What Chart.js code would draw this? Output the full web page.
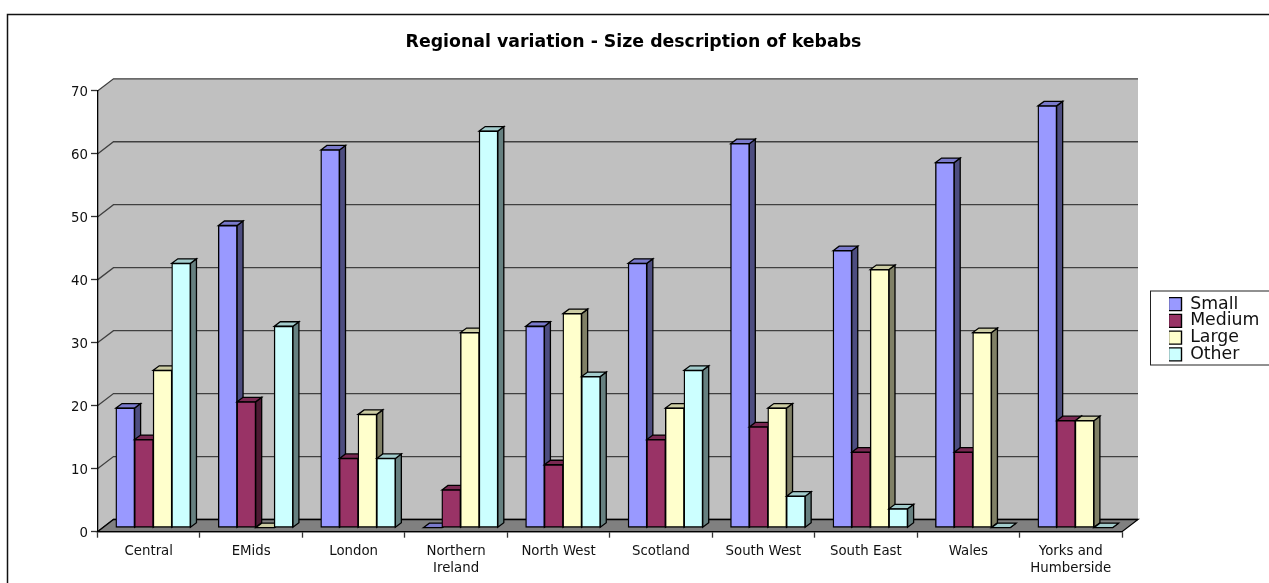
<!DOCTYPE html>
<html>
<head>
<meta charset="utf-8">
<title>Regional variation - Size description of kebabs</title>
<script src="https://cdn.jsdelivr.net/npm/chart.js@4"></script>
<style>
  html, body { margin: 0; padding: 0; background: #fff; }
  #wrap { position: relative; width: 1269px; height: 583px; overflow: hidden; }
</style>
</head>
<body>
<div id="wrap"><canvas id="kebabChart" width="1269" height="583"></canvas></div>
<script>
const regions = ['Central', 'EMids', 'London', ['Northern', 'Ireland'], 'North West', 'Scotland',
  'South West', 'South East', 'Wales', ['Yorks and', 'Humberside']];
const seriesNames = ['Small', 'Medium', 'Large', 'Other'];
const small  = [19, 48, 60, 0, 32, 42, 61, 44, 58, 67];
const medium = [14, 20, 11, 6, 10, 14, 16, 12, 12, 17];
const large  = [25, 0, 18, 31, 34, 19, 19, 41, 31, 17];
const other  = [42, 32, 11, 63, 24, 25, 5, 3, 0, 0];

const fronts = ['#9999ff', '#993366', '#ffffcc', '#ccffff'];
const tops   = ['#7a7acc', '#7a2952', '#cccca3', '#a3cccc'];
const sides  = ['#4d4d80', '#4d1a33', '#808066', '#668080'];

const FONT = '"DejaVu Sans", Verdana, sans-serif';
const WALL_DX = 16, WALL_DY = 12.2;   // depth of the floor and side wall
const BAR_DX = 4.5, BAR_DY = 4;       // bars stand a little behind the axis plane
const SIDE_DX = 6, SIDE_DY = 4.5;     // depth of each bar
const EDGE = 1.3;

function poly(ctx, pts, fill, stroke) {
  ctx.beginPath();
  pts.forEach((p, i) => i ? ctx.lineTo(p[0], p[1]) : ctx.moveTo(p[0], p[1]));
  ctx.closePath();
  if (fill) { ctx.fillStyle = fill; ctx.fill(); }
  if (stroke) { ctx.strokeStyle = stroke; ctx.lineWidth = EDGE; ctx.stroke(); }
}

const pseudo3d = {
  id: 'pseudo3d',
  afterLayout(chart) {
    // title is centred on the frame, not on the plot
    chart.titleBlock.left = 0;
    chart.titleBlock.right = 1267;
    // legend sits in its own box to the right of the plot
    const lg = chart.legend;
    const pad = lg.options.labels.padding;
    lg.left = 1168.5 - pad;
    lg.top = 295.5 - pad;
    lg.right = 1269;
    lg.bottom = 365;
  },
  beforeDraw(chart) {
    const { ctx, chartArea: a, scales: { y } } = chart;
    ctx.save();
    // outer frame, open to the right and bottom
    ctx.strokeStyle = '#111';
    ctx.lineWidth = 1.5;
    ctx.beginPath();
    ctx.moveTo(7.5, 583);
    ctx.lineTo(7.5, 14.5);
    ctx.lineTo(1269, 14.5);
    ctx.stroke();

    // side wall and back wall in one piece, then the floor
    poly(ctx, [[a.left, a.top], [a.left + WALL_DX, a.top - WALL_DY], [a.right + WALL_DX, a.top - WALL_DY],
      [a.right + WALL_DX, a.bottom - WALL_DY], [a.left + WALL_DX, a.bottom - WALL_DY], [a.left, a.bottom]], '#c0c0c0');

    // grid lines run back along the side wall and across the back
    ctx.strokeStyle = '#404040';
    ctx.lineWidth = EDGE;
    y.ticks.forEach(t => {
      const py = y.getPixelForValue(t.value);
      ctx.beginPath();
      ctx.moveTo(a.left, py);
      ctx.lineTo(a.left + WALL_DX, py - WALL_DY);
      ctx.lineTo(a.right + WALL_DX, py - WALL_DY);
      ctx.stroke();
    });
    poly(ctx, [[a.left, a.bottom], [a.left + WALL_DX, a.bottom - WALL_DY],
      [a.right + WALL_DX, a.bottom - WALL_DY], [a.right, a.bottom]], '#808080', '#000');

    // legend box
    ctx.fillStyle = '#fff';
    ctx.fillRect(1150.5, 291, 120, 74);
    ctx.strokeStyle = '#222';
    ctx.lineWidth = 1;
    ctx.strokeRect(1150.5, 291, 120, 74);
    ctx.restore();
  },
  beforeDatasetsDraw(chart) {
    const { ctx } = chart;
    ctx.save();
    ctx.translate(BAR_DX, -BAR_DY);
    regions.forEach((r, i) => {
      seriesNames.forEach((s, d) => {
        const bar = chart.getDatasetMeta(d).data[i];
        const x0 = bar.x - bar.width / 2, x1 = bar.x + bar.width / 2;
        const t = bar.y, b = bar.base;
        poly(ctx, [[x1, t], [x1 + SIDE_DX, t - SIDE_DY], [x1 + SIDE_DX, b - SIDE_DY], [x1, b]], sides[d], '#000');
        poly(ctx, [[x0, t], [x0 + SIDE_DX, t - SIDE_DY], [x1 + SIDE_DX, t - SIDE_DY], [x1, t]], tops[d], '#000');
        bar.draw(ctx);
      });
    });
    ctx.restore();
    return false;
  }
};

new Chart(document.getElementById('kebabChart'), {
  type: 'bar',
  data: {
    labels: regions,
    datasets: [small, medium, large, other].map((values, d) => ({
      label: seriesNames[d],
      data: values,
      backgroundColor: fronts[d],
      borderColor: '#000',
      borderWidth: 1.4,
      borderSkipped: false,
      inflateAmount: 0.5,
      barPercentage: 1,
      categoryPercentage: 0.727
    }))
  },
  options: {
    responsive: false,
    animation: false,
    layout: { padding: { left: 0, top: 0, right: 147, bottom: 0 } },
    scales: {
      x: {
        afterFit(s) { s.height = 51.3; },
        grid: { drawOnChartArea: false, tickLength: 6, tickColor: '#333', tickWidth: 1.3, offset: true },
        border: { color: '#000', width: 1.3 },
        ticks: {
          color: '#111',
          maxRotation: 0,
          autoSkip: false,
          padding: 5,
          font: { family: FONT, size: 13.33, lineHeight: 1.27 }
        }
      },
      y: {
        min: 0,
        max: 70,
        afterFit(s) { s.width = 97.5; },
        grid: { drawOnChartArea: false, tickLength: 6.5, tickColor: '#333', tickWidth: 1.3 },
        border: { color: '#000', width: 1.3 },
        ticks: {
          stepSize: 10,
          color: '#111',
          padding: 3,
          labelOffset: 1.5,
          font: { family: FONT, size: 13.33 }
        }
      }
    },
    plugins: {
      title: {
        display: true,
        text: 'Regional variation - Size description of kebabs',
        color: '#000',
        font: { family: FONT, size: 17.33, weight: 'bold', lineHeight: 1.2 },
        padding: { top: 32.4, bottom: 37.8 }
      },
      legend: {
        position: 'chartArea',
        align: 'start',
        labels: {
          boxWidth: 13,
          boxHeight: 13,
          padding: -0.6,
          color: '#111',
          font: { family: FONT, size: 17.33 }
        }
      },
      tooltip: { enabled: false }
    }
  },
  plugins: [pseudo3d]
});
</script>
</body>
</html>
